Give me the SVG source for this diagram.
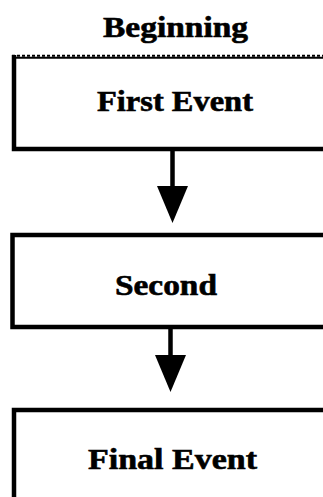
<svg xmlns="http://www.w3.org/2000/svg" width="323" height="497" viewBox="0 0 323 497">
<style>
.bg{fill:#fff}
.box{fill:none;stroke:#000;stroke-width:4.5}
.lbl{font-family:"Liberation Serif","DejaVu Serif",serif;font-weight:bold;font-size:29px;fill:#000;stroke:#000;stroke-width:0.6}
.conn{stroke:#000;stroke-width:4.5;fill:none}
</style>
<defs>
<marker id="head" markerUnits="userSpaceOnUse" markerWidth="40" markerHeight="34" refX="14" refY="15.5" orient="auto" viewBox="0 0 40 34">
<path d="M0,0 L37,15.5 L0,31 Z" fill="#000"/>
</marker>
</defs>
<rect class="bg" width="323" height="497"/>
<g id="title">
<text class="lbl" x="103" y="37" textLength="145" lengthAdjust="spacingAndGlyphs">Beginning</text>
</g>
<g id="node-first">
<path class="box" d="M14,55 V149 H330"/>
<line x1="12" y1="57.7" x2="330" y2="57.7" stroke="#000" stroke-width="2"/>
<line x1="12" y1="55.7" x2="330" y2="55.7" stroke="#000" stroke-width="2" stroke-dasharray="3 2"/>
<text class="lbl" x="97" y="111" textLength="156" lengthAdjust="spacingAndGlyphs">First Event</text>
</g>
<g id="node-second">
<path class="box" d="M330,235 H12.5 V327 H330"/>
<text class="lbl" x="115" y="295" textLength="102" lengthAdjust="spacingAndGlyphs">Second</text>
</g>
<g id="node-final">
<path class="box" d="M330,410 H14 V500"/>
<text class="lbl" x="88" y="469" textLength="169" lengthAdjust="spacingAndGlyphs">Final Event</text>
</g>
<g id="connectors">
<line class="conn" x1="172.5" y1="151" x2="172.5" y2="200" marker-end="url(#head)"/>
<line class="conn" x1="170.5" y1="329" x2="170.5" y2="369" marker-end="url(#head)"/>
</g>
</svg>
